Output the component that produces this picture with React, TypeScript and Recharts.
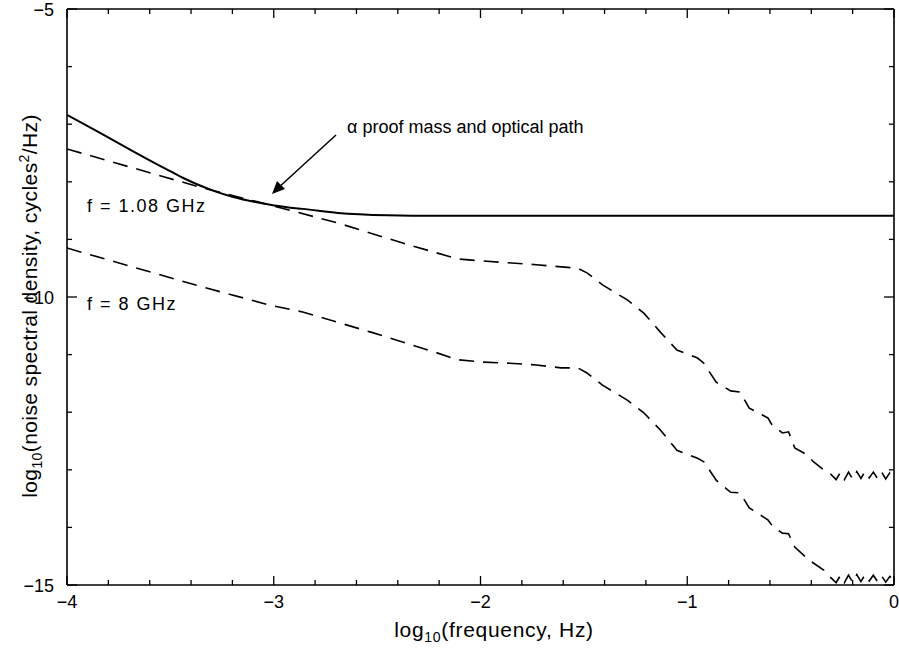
import React from "react";
import { LineChart, Line, XAxis, YAxis } from "recharts";

// log10 frequency (Hz) and log10 noise density
const solidFreq = [-4, -3.84, -3.68, -3.52, -3.44, -3.36, -3.28, -3.2, -3.03, -2.92, -2.86, -2.69, -2.45, -2.21, -2.0, -1.0, 0];
const solidNoise = [-6.84, -7.15, -7.47, -7.78, -7.93, -8.06, -8.17, -8.26, -8.39, -8.45, -8.47, -8.54, -8.58, -8.59, -8.59, -8.59, -8.59];

const lowFreqX = [
  -4, -3.68, -3.36, -3.0, -2.69, -2.38, -2.11, -1.99, -1.73, -1.53, -1.485, -1.41, -1.29, -1.21, -1.13, -1.05,
  -0.95, -0.92, -0.86, -0.79, -0.745, -0.7, -0.61, -0.59, -0.54, -0.51, -0.48, -0.42, -0.39, -0.34, -0.31,
  -0.28, -0.26, -0.24, -0.22, -0.2, -0.18, -0.16, -0.14, -0.12, -0.1, -0.08, -0.06, -0.04, -0.02, 0,
];
const lowFreqY = [
  -7.43, -7.76, -8.09, -8.42, -8.715, -9.06, -9.34, -9.375, -9.44, -9.5, -9.58, -9.79, -10.05, -10.28, -10.61, -10.92,
  -11.06, -11.15, -11.48, -11.63, -11.65, -11.93, -12.1, -12.22, -12.36, -12.34, -12.62, -12.74, -12.86, -13.0, -13.06,
  -13.17, -13.05, -13.17, -13.04, -13.16, -13.03, -13.15, -13.03, -13.14, -13.04, -13.15, -13.04, -13.16, -13.05, -13.12,
];

const highFreqX = [
  -4, -3.68, -3.36, -3.02, -2.86, -2.53, -2.21, -2.11, -1.99, -1.86, -1.73, -1.61, -1.53, -1.485, -1.41, -1.29,
  -1.21, -1.13, -1.05, -0.95, -0.92, -0.86, -0.79, -0.745, -0.7, -0.61, -0.585, -0.54, -0.51, -0.48, -0.41, -0.34,
  -0.31, -0.28, -0.26, -0.24, -0.22, -0.2, -0.18, -0.16, -0.14, -0.12, -0.1, -0.08, -0.06, -0.04, -0.02, 0,
];
const highFreqY = [
  -9.15, -9.48, -9.81, -10.14, -10.26, -10.61, -10.97, -11.09, -11.13, -11.15, -11.18, -11.23, -11.23, -11.32, -11.53, -11.79,
  -12.01, -12.31, -12.66, -12.8, -12.86, -13.18, -13.39, -13.4, -13.66, -13.87, -13.99, -14.1, -14.11, -14.34, -14.57, -14.74,
  -14.86, -14.96, -14.84, -14.96, -14.83, -14.95, -14.82, -14.94, -14.82, -14.93, -14.83, -14.94, -14.84, -14.95, -14.85, -14.92,
];

const xTicks = [-4, -3.8, -3.6, -3.4, -3.2, -3, -2.8, -2.6, -2.4, -2.2, -2, -1.8, -1.6, -1.4, -1.2, -1, -0.8, -0.6, -0.4, -0.2, 0];
const yTicks = [-15, -14, -13, -12, -11, -10, -9, -8, -7, -6, -5];
const yLabelled = [-15, -10, -5];

const zip = (xs: number[], ys: number[]) => xs.map((x, i) => ({ x, y: ys[i] }));
const solid = zip(solidFreq, solidNoise);
const lowFreq = zip(lowFreqX, lowFreqY);
const highFreq = zip(highFreqX, highFreqY);

const W = 899;
const H = 658;
const FONT = "'Liberation Sans', Arial, sans-serif";

const isMajor = (v: number) => Math.abs(v - Math.round(v)) < 1e-6;
const fmt = (v: number) => (v < 0 ? "\u2212" + Math.abs(Math.round(v)) : String(Math.round(v)));

// tick marks point inward; labels only on bottom and left
function makeTick(side: "bottom" | "top" | "left" | "right") {
  return (props: any) => {
    const { x, y, payload } = props;
    const v = payload.value as number;
    const vertical = side === "bottom" || side === "top";
    const major = vertical ? isMajor(v) : yLabelled.includes(v);
    const len = vertical ? (major ? 9 : 5) : major ? 10 : 5;
    let x2 = x, y2 = y;
    if (side === "bottom") y2 = y - len;
    if (side === "top") y2 = y + len;
    if (side === "left") x2 = x + len;
    if (side === "right") x2 = x - len;
    return (
      <g>
        <line x1={x} y1={y} x2={x2} y2={y2} stroke="#000" strokeWidth={1.3} />
        {side === "bottom" && major && (
          <text x={x} y={y + 23} textAnchor="middle" fontFamily={FONT} fontSize={18} fill="#000">
            {fmt(v)}
          </text>
        )}
        {side === "left" && major && (
          <text x={x - 13} y={y + 7} textAnchor="end" fontFamily={FONT} fontSize={18} fill="#000">
            {fmt(v)}
          </text>
        )}
      </g>
    );
  };
}

const axisLine = { stroke: "#000", strokeWidth: 1.6 };

export default function App() {
  return (
    <div style={{ position: "absolute", left: 0, top: 0, width: W, height: H, background: "#fff" }}>
      <LineChart width={W} height={H} margin={{ top: 8, right: 4, bottom: 72, left: 66 }}>
        <XAxis xAxisId="b" type="number" dataKey="x" domain={[-4, 0]} ticks={xTicks} interval={0}
          orientation="bottom" height={1} tickSize={0} tickMargin={0} tickLine={false} axisLine={axisLine}
          tick={makeTick("bottom")} allowDataOverflow />
        <XAxis xAxisId="t" type="number" dataKey="x" domain={[-4, 0]} ticks={xTicks} interval={0}
          orientation="top" height={1} tickSize={0} tickMargin={0} tickLine={false} axisLine={axisLine}
          tick={makeTick("top")} allowDataOverflow />
        <YAxis yAxisId="l" type="number" domain={[-15, -5]} ticks={yTicks} interval={0}
          orientation="left" width={1} tickSize={0} tickMargin={0} tickLine={false} axisLine={axisLine}
          tick={makeTick("left")} allowDataOverflow />
        <YAxis yAxisId="r" type="number" domain={[-15, -5]} ticks={yTicks} interval={0}
          orientation="right" width={1} tickSize={0} tickMargin={0} tickLine={false} axisLine={axisLine}
          tick={makeTick("right")} allowDataOverflow />
        <Line xAxisId="b" yAxisId="l" data={lowFreq} dataKey="y" type="linear" stroke="#000"
          strokeWidth={1.6} strokeDasharray="15 9" dot={false} activeDot={false} isAnimationActive={false} />
        <Line xAxisId="b" yAxisId="l" data={highFreq} dataKey="y" type="linear" stroke="#000"
          strokeWidth={1.6} strokeDasharray="15 9" dot={false} activeDot={false} isAnimationActive={false} />
        <Line xAxisId="b" yAxisId="l" data={solid} dataKey="y" type="monotone" stroke="#000"
          strokeWidth={2} dot={false} activeDot={false} isAnimationActive={false} />
      </LineChart>
      <svg width={W} height={H} style={{ position: "absolute", left: 0, top: 0, pointerEvents: "none" }}>
        <g fontFamily={FONT} fill="#000">
          <text x={347} y={133} fontSize={18}>α proof mass and optical path</text>
          <line x1={336} y1={135} x2={277} y2={189} stroke="#000" strokeWidth={1.5} />
          <polygon points="272,194 277,181 285,189" fill="#000" />
          <text x={87} y={212} fontSize={18} style={{ letterSpacing: "1.5px" }}>f = 1.08 GHz</text>
          <text x={87} y={310} fontSize={18} style={{ letterSpacing: "1.5px" }}>f = 8 GHz</text>
          <text x={494} y={637} fontSize={21} textAnchor="middle" style={{ letterSpacing: "0.7px" }}>
            log<tspan fontSize={14} dy={5}>10</tspan><tspan dy={-5}>(frequency, Hz)</tspan>
          </text>
          <text transform="translate(37,306) rotate(-90)" fontSize={21} textAnchor="middle" style={{ letterSpacing: "0.4px" }}>
            log<tspan fontSize={14} dy={5}>10</tspan><tspan dy={-5}>(noise spectral density, cycles</tspan>
            <tspan fontSize={14} dy={-8}>2</tspan><tspan dy={8}>/Hz)</tspan>
          </text>
        </g>
      </svg>
    </div>
  );
}
